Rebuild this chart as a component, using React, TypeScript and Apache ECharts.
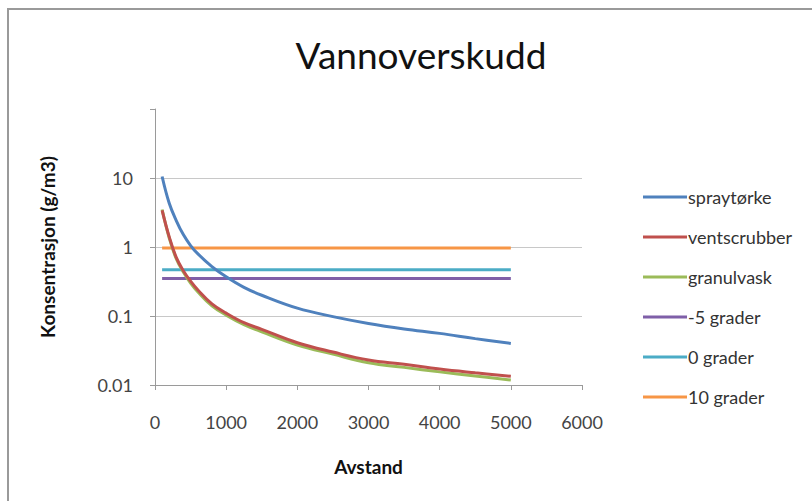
import React, { useEffect, useRef } from "react";
import * as echarts from "echarts";

const titleText = "Vannoverskudd";
const xAxisName = "Avstand";
const yAxisName = "Konsentrasjon (g/m3)";

const distances = [100, 200, 300, 400, 500, 600, 800, 1000, 1250, 1500, 2000, 2500, 3000, 3500, 4000, 4500, 5000];
const spraytorke = [10.5, 4.3, 2.4, 1.5, 1.05, 0.8, 0.52, 0.37, 0.26, 0.2, 0.13, 0.098, 0.078, 0.065, 0.056, 0.047, 0.04];
const ventscrubber = [3.4, 1.4, 0.7, 0.45, 0.32, 0.24, 0.15, 0.11, 0.08, 0.064, 0.041, 0.03, 0.023, 0.02, 0.017, 0.015, 0.0134];
const granulvask = [3.5, 1.35, 0.67, 0.43, 0.3, 0.225, 0.14, 0.103, 0.075, 0.059, 0.038, 0.028, 0.021, 0.018, 0.0155, 0.0135, 0.0118];

const levelRange = [100, 5000];
const minus5 = 0.35;
const zero = 0.47;
const ten = 0.97;

const seriesNames = ["spraytørke", "ventscrubber", "granulvask", "-5 grader", "0 grader", "10 grader"];
const colors = ["#4F81BD", "#C0504D", "#9BBB59", "#7F5FA8", "#4BACC6", "#F79646"];

const yTicks = [0.01, 0.1, 1, 10];

const FONT = "Lato, 'Open Sans', sans-serif";

export default function App() {
  const ref = useRef<HTMLDivElement>(null);
  useEffect(() => {
    if (!ref.current) return;
    const chart = echarts.init(ref.current, null, { renderer: "svg" });
    const curve = (vals: number[]) => distances.map((d, i) => [d, vals[i]]);
    const level = (v: number) => levelRange.map((d) => [d, v]);
    const data = [curve(spraytorke), curve(ventscrubber), curve(granulvask), level(minus5), level(zero), level(ten)];
    chart.setOption({
      animation: false,
      backgroundColor: "#ffffff",
      color: colors,
      textStyle: { fontFamily: FONT },
      title: {
        text: titleText,
        left: 416,
        textAlign: "center",
        top: 31,
        textStyle: { fontFamily: FONT, fontSize: 37, fontWeight: "normal", color: "#111" },
      },
      graphic: [
        {
          type: "rect",
          shape: { x: 8, y: 9, width: 900, height: 600 },
          style: { fill: "none", stroke: "#9a9a9a", lineWidth: 2 },
          silent: true,
        },
      ],
      legend: {
        orient: "vertical",
        left: 638,
        top: 182,
        itemWidth: 44,
        itemHeight: 3,
        itemGap: 20,
        icon: "rect",
        data: seriesNames,
        textStyle: { fontFamily: FONT, fontSize: 18, lineHeight: 20, color: "#333", padding: [0, 0, 0, -4] },
      },
      grid: { left: 155, right: 230, top: 109, bottom: 116 },
      xAxis: {
        type: "value",
        min: 0,
        max: 6000,
        interval: 1000,
        name: xAxisName,
        nameLocation: "middle",
        nameGap: 72,
        nameTextStyle: { fontFamily: FONT, fontSize: 19, fontWeight: "bold", color: "#111" },
        axisLine: { show: true, lineStyle: { color: "#9a9a9a", width: 1 } },
        axisTick: { show: true, length: 5, lineStyle: { color: "#9a9a9a" } },
        axisLabel: { fontFamily: FONT, fontSize: 18, color: "#444", margin: 28, formatter: (v: number) => String(v) },
        splitLine: { show: false },
      },
      yAxis: {
        type: "log",
        logBase: 10,
        min: 0.01,
        max: 100,
        name: yAxisName,
        nameLocation: "middle",
        nameGap: 98,
        nameRotate: 90,
        nameTextStyle: { fontFamily: FONT, fontSize: 19, fontWeight: "bold", color: "#111" },
        axisLine: { show: true, lineStyle: { color: "#9a9a9a", width: 1 } },
        axisTick: { show: true, length: 5, lineStyle: { color: "#9a9a9a" } },
        axisLabel: {
          fontFamily: FONT,
          fontSize: 18,
          color: "#444",
          margin: 22,
          formatter: (v: number) => {
            const hit = yTicks.find((t) => Math.abs(t - v) / t < 1e-6);
            return hit !== undefined ? String(hit) : "";
          },
        },
        splitLine: { show: true, showMaxLine: false, lineStyle: { color: "#c8c8c8", width: 1 } },
      },
      series: seriesNames.map((name, i) => ({
        name,
        type: "line",
        data: data[i],
        smooth: i < 3 ? 0.4 : false,
        showSymbol: false,
        symbol: "none",
        lineStyle: { width: 3, color: colors[i] },
        itemStyle: { color: colors[i] },
        z: 10 - i,
      })),
    });
    return () => chart.dispose();
  }, []);
  return <div ref={ref} style={{ position: "absolute", left: 0, top: 0, width: 812, height: 501 }} />;
}
